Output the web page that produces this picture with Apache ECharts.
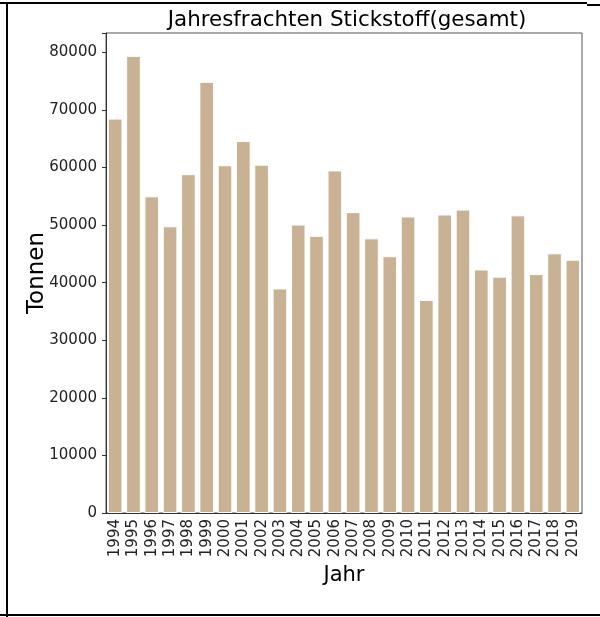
<!DOCTYPE html>
<html>
<head>
<meta charset="utf-8">
<script src="https://cdn.jsdelivr.net/npm/echarts@6/dist/echarts.min.js"></script>
<style>html,body{margin:0;padding:0;background:#fff}#c{width:600px;height:617px}</style>
</head>
<body>
<div id="c"></div>
<script>
const years = ['1994','1995','1996','1997','1998','1999','2000','2001','2002','2003','2004','2005','2006','2007','2008','2009','2010','2011','2012','2013','2014','2015','2016','2017','2018','2019'];
const tonnen = [68500,79400,55000,49800,58850,74900,60400,64600,60500,39000,50100,48150,59500,52250,47700,44600,51500,37000,51850,52700,42300,41050,51700,41500,45100,44000];
const yTicks = [0,10000,20000,30000,40000,50000,60000,70000,80000];
const titleText = 'Jahresfrachten Stickstoff(gesamt)';
const yName = 'Tonnen';
const xName = 'Jahr';

const font = 'DejaVu Sans';
const chart = echarts.init(document.getElementById('c'), null, {renderer:'canvas'});
chart.setOption({
  animation:false,
  backgroundColor:'#fff',
  title:{text:titleText,left:342,textAlign:'center',top:5,
    textStyle:{fontFamily:font,fontSize:21.4,fontWeight:'normal',color:'#000'}},
  grid:{left:106,right:18,top:33,bottom:104,show:true,borderColor:'#555',borderWidth:1},
  xAxis:{type:'category',data:years,name:xName,nameLocation:'middle',nameGap:52,nameMoveOverlap:false,
    nameTextStyle:{fontFamily:font,fontSize:21,color:'#000'},
    axisLine:{lineStyle:{color:'#333',width:1}},
    axisTick:{alignWithLabel:true,length:4,lineStyle:{color:'#333'}},
    axisLabel:{rotate:90,margin:6,fontFamily:font,fontSize:15,color:'#222',interval:0}},
  yAxis:{type:'value',min:0,max:83370,interval:10000,name:yName,nameLocation:'middle',nameGap:57,nameMoveOverlap:false,
    nameTextStyle:{fontFamily:font,fontSize:23,color:'#000'},
    axisLine:{show:true,lineStyle:{color:'#333',width:1}},
    axisTick:{show:true,length:4,lineStyle:{color:'#333'}},
    splitLine:{show:false},
    axisLabel:{margin:9,fontFamily:font,fontSize:15,color:'#222',
      customValues:yTicks,formatter:v=>String(v)}},
  series:[{type:'bar',data:tonnen,barCategoryGap:'20%',
    itemStyle:{color:'#c9b294',borderColor:'#fff',borderWidth:1}}],
  graphic:[
    {type:'line',shape:{x1:0,y1:3,x2:587,y2:3},style:{stroke:'#000',lineWidth:2},silent:true},
    {type:'line',shape:{x1:587,y1:5,x2:600,y2:5},style:{stroke:'#000',lineWidth:2},silent:true},
    {type:'line',shape:{x1:7,y1:3,x2:7,y2:617},style:{stroke:'#000',lineWidth:2},silent:true},
    {type:'line',shape:{x1:0,y1:615,x2:600,y2:615},style:{stroke:'#000',lineWidth:2},silent:true}
  ]
});
</script>
</body>
</html>
